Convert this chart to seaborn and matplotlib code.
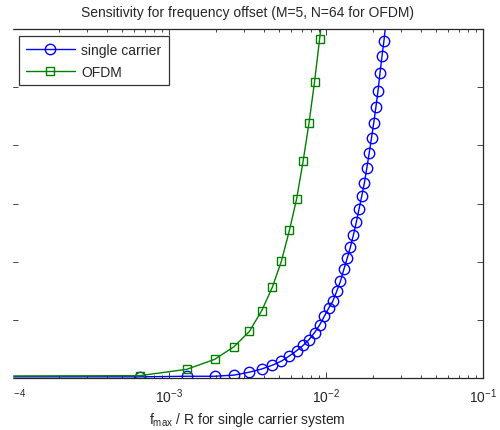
import seaborn as sns
import matplotlib
matplotlib.use("Agg")
import matplotlib.pyplot as plt
from matplotlib.patches import Rectangle
import pandas as pd

# f_max / R grid (step ~6.5e-4); first point lies left of the axis, as in the original
sc_x = [1e-5] + [round(k * 6.5e-4, 6) for k in range(1, 38)]
sc_y = [0.02, 0.02, 0.03, 0.03, 0.05, 0.10, 0.155, 0.22, 0.29, 0.38, 0.47,
        0.56, 0.66, 0.78, 0.91, 1.06, 1.20, 1.32, 1.49, 1.66, 1.87,
        2.06, 2.25, 2.46, 2.68, 2.91, 3.13, 3.35, 3.61, 3.87, 4.13,
        4.39, 4.66, 4.94, 5.25, 5.54, 5.80, 6.10]

ofdm_x = [1e-5] + [round(k * 6.5e-4, 6) for k in range(1, 16)]
ofdm_y = [0.03, 0.04, 0.15, 0.32, 0.54, 0.80, 1.16, 1.56, 2.01, 2.54, 3.08,
          3.73, 4.39, 5.09, 5.82, 6.55]

sc = pd.DataFrame({"x": sc_x, "y": sc_y})
of = pd.DataFrame({"x": ofdm_x, "y": ofdm_y})

sns.set_style("ticks")
plt.rcParams["font.family"] = ["Liberation Sans", "DejaVu Sans"]
plt.rcParams["mathtext.fontset"] = "custom"
plt.rcParams["mathtext.rm"] = "Liberation Sans"
plt.rcParams["mathtext.it"] = "Liberation Sans:italic"
plt.rcParams["mathtext.default"] = "regular"

fig = plt.figure(figsize=(5.0, 4.31), dpi=100)
ax = fig.add_axes([12 / 500, 1 - 379 / 431, (483 - 12) / 500, (379 - 30) / 431])

sns.lineplot(data=sc, x="x", y="y", ax=ax, color="#0000ff", lw=1.0,
             marker="o", markersize=7.5, markerfacecolor="none",
             markeredgecolor="#0000ff", markeredgewidth=1.0,
             label="single carrier", sort=False)
sns.lineplot(data=of, x="x", y="y", ax=ax, color="#008000", lw=1.0,
             marker="s", markersize=6, markerfacecolor="none",
             markeredgecolor="#008000", markeredgewidth=1.0,
             label="OFDM", sort=False)

ax.set_xscale("log")
ax.set_xlim(1e-4, 1e-1)
ax.set_ylim(0, 6)
ax.set_yticks(range(0, 7))
ax.set_yticklabels([])
ax.set_xticks([1e-4, 1e-3, 1e-2, 1e-1])
ax.tick_params(which="both", direction="in", top=True, right=True,
               labelsize=10, width=0.6, pad=6)
ax.tick_params(which="major", length=4)
ax.tick_params(which="minor", length=2)
ax.spines["left"].set_visible(False)
for s in ["top", "right", "bottom"]:
    ax.spines[s].set_linewidth(0.9)

ax.set_title("Sensitivity for frequency offset (M=5, N=64 for OFDM)",
             fontsize=10, pad=9)
ax.set_xlabel(r"f$_{\mathrm{max}}$ / R for single carrier system", fontsize=10,
              labelpad=4)
ax.set_ylabel("")

leg = ax.legend(loc="upper left", fontsize=10, frameon=True, fancybox=False,
                edgecolor="black", borderaxespad=0.5, handlelength=3.5,
                borderpad=0.5, labelspacing=0.55, handletextpad=0.5)
leg.get_frame().set_linewidth(0.9)

# the original image is cut at the left edge of the axes
fig.patches.append(Rectangle((0, 0), 12 / 500, 1, transform=fig.transFigure,
                             color="white", zorder=10))

fig.savefig("out.png", dpi=100)
